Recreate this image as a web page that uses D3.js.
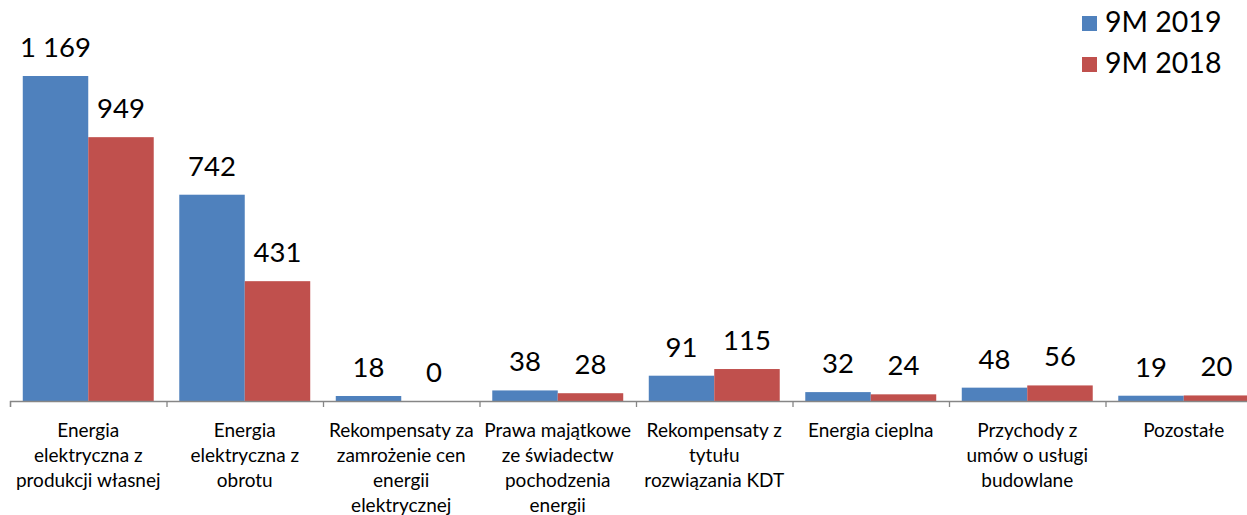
<!DOCTYPE html>
<html>
<head>
<meta charset="utf-8">
<script src="https://cdn.jsdelivr.net/npm/d3@7"></script>
<style>
  html, body { margin: 0; padding: 0; background: #fff; }
  svg { display: block; }
  text { font-family: Lato, "Open Sans", sans-serif; fill: #000; }
</style>
</head>
<body>
<svg id="chart" width="1247" height="515"></svg>
<script>
// Revenue categories (label lines as displayed under the axis)
const categories = [
  ["Energia", "elektryczna z", "produkcji własnej"],
  ["Energia", "elektryczna z", "obrotu"],
  ["Rekompensaty za", "zamrożenie cen", "energii", "elektrycznej"],
  ["Prawa majątkowe", "ze świadectw", "pochodzenia", "energii"],
  ["Rekompensaty z", "tytułu", "rozwiązania KDT"],
  ["Energia cieplna"],
  ["Przychody z", "umów o usługi", "budowlane"],
  ["Pozostałe"]
];
const seriesNames = ["9M 2019", "9M 2018"];
const values2019 = [1169, 742, 18, 38, 91, 32, 48, 19];
const values2018 = [949, 431, 0, 28, 115, 24, 56, 20];
const seriesColors = ["#4F81BD", "#C0504D"];

const svg = d3.select("#chart");
const baseY = 401;
const left = 10;
const step = 156.5;
const right = left + step * categories.length; // last group runs past the edge

const idx = d3.range(categories.length);
const x0 = d3.scaleBand().domain(idx).range([left, right]).padding(0);
const x1 = d3.scaleBand().domain(seriesNames).range([0, x0.bandwidth()])
  .paddingInner(0).paddingOuter(0.195);
const y = d3.scaleLinear().domain([0, 1169]).range([baseY, 76]);
const color = d3.scaleOrdinal().domain(seriesNames).range(seriesColors);

const rows = idx.map(i => ({
  i,
  items: [
    { s: seriesNames[0], v: values2019[i] },
    { s: seriesNames[1], v: values2018[i] }
  ]
}));

const fmt = v => d3.format(",")(v).replace(/,/g, " ");

const groups = svg.append("g").selectAll("g")
  .data(rows).join("g")
  .attr("transform", d => `translate(${x0(d.i)},0)`);

groups.selectAll("rect")
  .data(d => d.items).join("rect")
  .attr("x", d => x1(d.s))
  .attr("y", d => y(d.v))
  .attr("width", x1.bandwidth())
  .attr("height", d => baseY - y(d.v))
  .attr("fill", d => color(d.s));

groups.selectAll("text.val")
  .data(d => d.items).join("text")
  .attr("class", "val")
  .attr("x", d => x1(d.s) + x1.bandwidth() / 2)
  .attr("y", d => y(d.v) - 19)
  .attr("text-anchor", "middle")
  .style("font-size", "27.5px")
  .text(d => fmt(d.v));

// Category axis with ticks at group boundaries
const xb = d3.scaleLinear().domain([0, categories.length]).range([left, right]);
const axis = svg.append("g")
  .attr("transform", `translate(0,${baseY})`)
  .call(d3.axisBottom(xb).tickValues(d3.range(categories.length + 1))
    .tickFormat("").tickSizeOuter(0).tickSize(6));
axis.select(".domain").attr("stroke", "#868686").attr("stroke-width", 1.3);
axis.selectAll(".tick line").attr("stroke", "#868686").attr("stroke-width", 1.3);

const labels = svg.append("g").selectAll("text")
  .data(rows).join("text")
  .attr("x", d => x0(d.i) + x0.bandwidth() / 2)
  .attr("y", 437)
  .attr("text-anchor", "middle")
  .style("font-size", "19px");
labels.selectAll("tspan")
  .data(d => categories[d.i]).join("tspan")
  .attr("x", function () { return this.parentNode.getAttribute("x"); })
  .attr("dy", (d, k) => k === 0 ? 0 : 25)
  .text(d => d);

// Legend
const legend = svg.append("g").selectAll("g")
  .data(seriesNames).join("g")
  .attr("transform", (d, k) => `translate(1082,${16 + k * 41})`);
legend.append("rect").attr("width", 15).attr("height", 15).attr("fill", d => color(d));
legend.append("text").attr("x", 23).attr("y", 16)
  .style("font-size", "28.5px").text(d => d);
</script>
</body>
</html>
